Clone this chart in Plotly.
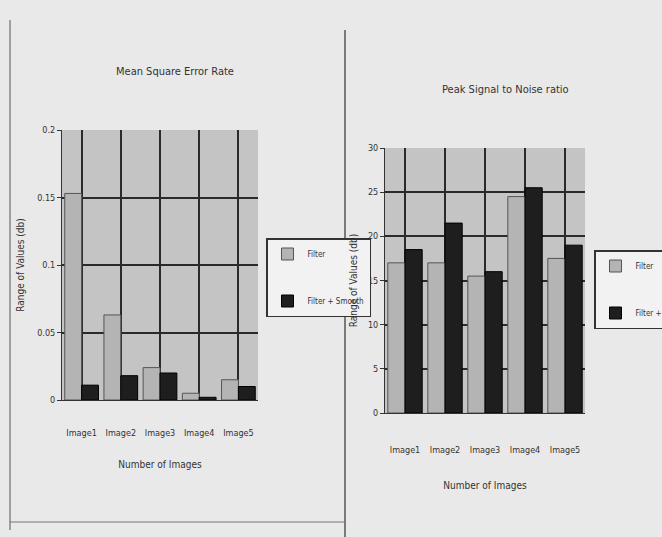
import plotly.graph_objects as go

categories = ["Image1", "Image2", "Image3", "Image4", "Image5"]
mse_filter = [0.153, 0.063, 0.024, 0.005, 0.015]
mse_filter_smooth = [0.011, 0.018, 0.020, 0.002, 0.010]
psnr_filter = [17.0, 17.0, 15.5, 24.5, 17.5]
psnr_filter_smooth = [18.5, 21.5, 16.0, 25.5, 19.0]
series_names = ["Filter", "Filter + Smooth"]
mse_ticks = [0, 0.05, 0.1, 0.15, 0.2]
mse_ticktext = ["0", "0.05", "0.1", "0.15", "0.2"]
psnr_ticks = [0, 5, 10, 15, 20, 25, 30]

W, H = 662, 537
FONT = "DejaVu Sans Condensed, Liberation Sans Narrow, Arial Narrow, sans-serif"
LIGHT = "#b4b4b4"
DARK = "#1e1e1e"

def px(x):
    return x / W

def py(y):
    return 1 - y / H

fig = go.Figure()

fig.add_trace(go.Bar(x=categories, y=mse_filter, name=series_names[0],
                     marker=dict(color=LIGHT, line=dict(color="#555", width=1)),
                     xaxis="x", yaxis="y", legend="legend", legendgroup="a"))
fig.add_trace(go.Bar(x=categories, y=mse_filter_smooth, name=series_names[1],
                     marker=dict(color=DARK, line=dict(color="#000", width=1)),
                     xaxis="x", yaxis="y", legend="legend", legendgroup="b"))
fig.add_trace(go.Bar(x=categories, y=psnr_filter, name=series_names[0],
                     marker=dict(color=LIGHT, line=dict(color="#555", width=1)),
                     xaxis="x2", yaxis="y2", legend="legend2", legendgroup="c"))
fig.add_trace(go.Bar(x=categories, y=psnr_filter_smooth, name=series_names[1],
                     marker=dict(color=DARK, line=dict(color="#000", width=1)),
                     xaxis="x2", yaxis="y2", legend="legend2", legendgroup="d"))

axfont = dict(family=FONT, size=9, color="#333")
titlefont = dict(family=FONT, size=10, color="#333")
common_x = dict(showgrid=True, gridcolor="#2a2a2a", gridwidth=1.5, showline=True,
                linecolor="#333", ticks="", tickfont=axfont, title_font=titlefont)
common_y = dict(showgrid=True, gridcolor="#2a2a2a", gridwidth=1.5, showline=True,
                linecolor="#333", ticks="outside", ticklen=4, tickcolor="#333",
                tickfont=axfont, zeroline=False, title_font=titlefont)

legend_common = dict(xanchor="left", yanchor="top", bgcolor="#f2f2f2",
                     bordercolor="#333", borderwidth=1.5,
                     font=dict(family=FONT, size=8, color="#333"),
                     itemwidth=30, tracegroupgap=28)

fig.update_layout(
    width=W, height=H,
    margin=dict(l=0, r=0, t=0, b=0, autoexpand=False),
    paper_bgcolor="#e9e9e9",
    plot_bgcolor="#c4c4c4",
    barmode="group", bargap=0.14, bargroupgap=0.0,
    font=dict(family=FONT, color="#333"),
    xaxis=dict(domain=[px(62), px(258)], anchor="y", ticklabelstandoff=24,
               title=dict(text="Number of Images", standoff=24), **common_x),
    yaxis=dict(domain=[py(400), py(130)], anchor="x", range=[0, 0.2],
               tickvals=mse_ticks, ticktext=mse_ticktext,
               title=dict(text="Range of Values (db)", standoff=10), **common_y),
    xaxis2=dict(domain=[px(385), px(585)], anchor="y2", ticklabelstandoff=28,
                title=dict(text="Number of Images", standoff=28), **common_x),
    yaxis2=dict(domain=[py(413), py(148)], anchor="x2", range=[0, 30],
                tickvals=psnr_ticks,
                title=dict(text="Range of Values (db)", standoff=8), **common_y),
    legend=dict(x=px(266), y=py(238), **legend_common),
    legend2=dict(x=px(594), y=py(250), **legend_common),
    annotations=[
        dict(text="Mean Square Error Rate", x=px(175), y=py(72), xref="paper", yref="paper",
             xanchor="center", yanchor="middle", showarrow=False,
             font=dict(family=FONT, size=11, color="#333")),
        dict(text="Peak Signal to Noise ratio", x=px(505), y=py(90), xref="paper", yref="paper",
             xanchor="center", yanchor="middle", showarrow=False,
             font=dict(family=FONT, size=11, color="#333")),
    ],
    shapes=[
        dict(type="line", xref="paper", yref="paper", x0=px(10), x1=px(10), y0=py(20), y1=py(530),
             line=dict(color="#555", width=1)),
        dict(type="line", xref="paper", yref="paper", x0=px(345), x1=px(345), y0=py(30), y1=py(537),
             line=dict(color="#555", width=1.5)),
        dict(type="line", xref="paper", yref="paper", x0=px(10), x1=px(345), y0=py(522), y1=py(522),
             line=dict(color="#777", width=1)),
    ],
)

fig.write_html(
    "out.html",
    config={"displayModeBar": False},
    post_script="document.body.style.margin='0';document.body.style.overflow='hidden';",
)
